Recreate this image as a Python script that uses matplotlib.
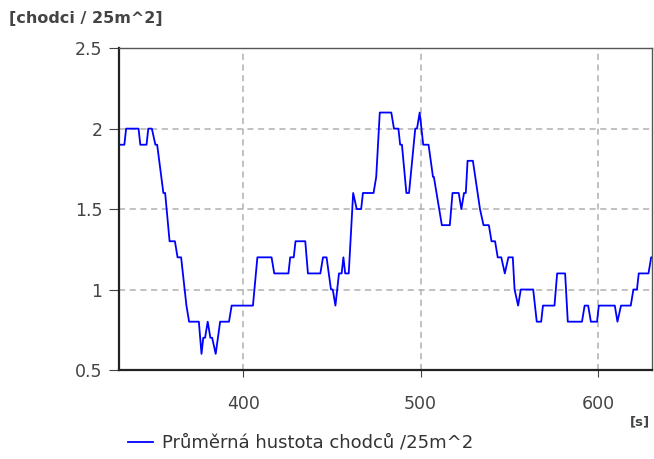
import matplotlib.pyplot as plt

# průměrná hustota chodců v čase (s)
cas = [330, 333, 334, 341, 342, 345.5, 346.5, 348.5, 350.5, 351.5, 355, 356,
       358.5, 361.5, 363, 365, 368, 369.5, 375, 376.5, 377.5, 378.5, 380,
       381.5, 382.5, 384.5, 387, 392, 393.5, 405.5, 408, 416, 417.5, 425.5,
       426.5, 428.5, 429.5, 435, 436.5, 443.5, 445, 447, 449.5, 450.5, 452,
       454, 455.5, 456.5, 457.5, 459.5, 462, 464, 466.5, 467.5, 473.5, 475,
       477, 483.5, 485, 487.5, 488.5, 489.5, 492, 493.5, 497, 498, 499.5,
       501.5, 504.5, 507, 507.5, 512, 516.5, 518, 521.5, 523, 524.5, 525.5,
       526.5, 529.5, 533.5, 535.5, 538.5, 540, 542, 543.5, 545.5, 547.5,
       549.5, 552, 553, 555, 556.5, 563.5, 565.5, 568, 569, 575.5, 577,
       581.5, 583, 591, 592.5, 594.5, 596, 599.5, 600.5, 609.5, 611, 613,
       618.5, 620, 622, 623, 628.5, 630, 631]
hustota = [1.9, 1.9, 2.0, 2.0, 1.9, 1.9, 2.0, 2.0, 1.9, 1.9, 1.6, 1.6,
           1.3, 1.3, 1.2, 1.2, 0.9, 0.8, 0.8, 0.6, 0.7, 0.7, 0.8,
           0.7, 0.7, 0.6, 0.8, 0.8, 0.9, 0.9, 1.2, 1.2, 1.1, 1.1,
           1.2, 1.2, 1.3, 1.3, 1.1, 1.1, 1.2, 1.2, 1.0, 1.0, 0.9,
           1.1, 1.1, 1.2, 1.1, 1.1, 1.6, 1.5, 1.5, 1.6, 1.6, 1.7,
           2.1, 2.1, 2.0, 2.0, 1.9, 1.9, 1.6, 1.6, 2.0, 2.0, 2.1,
           1.9, 1.9, 1.7, 1.7, 1.4, 1.4, 1.6, 1.6, 1.5, 1.6, 1.6,
           1.8, 1.8, 1.5, 1.4, 1.4, 1.3, 1.3, 1.2, 1.2, 1.1,
           1.2, 1.2, 1.0, 0.9, 1.0, 1.0, 0.8, 0.8, 0.9, 0.9, 1.1,
           1.1, 0.8, 0.8, 0.9, 0.9, 0.8, 0.8, 0.9, 0.9, 0.8, 0.9,
           0.9, 1.0, 1.0, 1.1, 1.1, 1.2, 1.2]

x_ticks = [400, 500, 600]
y_ticks = [0.5, 1, 1.5, 2, 2.5]
y_labels = ["0.5", "1", "1.5", "2", "2.5"]

fig = plt.figure(figsize=(6.54, 4.59), dpi=100)
ax = fig.add_axes([0.182, 0.194, 0.815, 0.701])

line, = ax.plot(cas, hustota, color="#0000ff", lw=1.3)

ax.set_xlim(330, 630.5)
ax.set_ylim(0.5, 2.5)
ax.set_xticks(x_ticks)
ax.set_yticks(y_ticks)
ax.set_yticklabels(y_labels)
ax.grid(True, color="#b0b0b0", ls=(0, (4, 3)), lw=1.1)

ax.tick_params(axis="both", labelsize=12.5, labelcolor="#444444",
               color="#444444", direction="out")
ax.tick_params(axis="x", pad=13, length=5)
ax.tick_params(axis="y", pad=5, length=7)

for side in ["top", "right"]:
    ax.spines[side].set_color("#555555")
    ax.spines[side].set_linewidth(1.0)
for side in ["left", "bottom"]:
    ax.spines[side].set_color("#222222")
    ax.spines[side].set_linewidth(1.6)

fig.text(0.014, 0.96, "[chodci / 25m^2]", fontsize=11.5, fontweight="bold",
         color="#444444", va="center", ha="left")
fig.text(0.994, 0.08, "[s]", fontsize=9.5, fontweight="bold",
         color="#444444", va="center", ha="right")

fig.legend([line], ["Průměrná hustota chodců /25m^2"], loc="center left",
           bbox_to_anchor=(0.196, 0.035), frameon=False, fontsize=13,
           handlelength=1.4, handletextpad=0.45, borderpad=0,
           borderaxespad=0, labelcolor="#333333")

fig.savefig("out.png", dpi=100)
